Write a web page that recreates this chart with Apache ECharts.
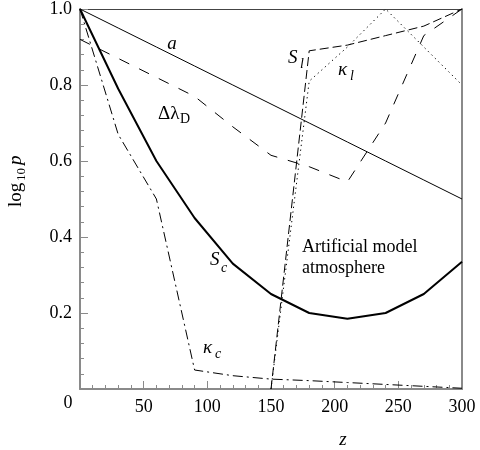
<!DOCTYPE html>
<html>
<head>
<meta charset="utf-8">
<script src="https://cdn.jsdelivr.net/npm/echarts@6/dist/echarts.min.js"></script>
<style>html,body{margin:0;padding:0;background:#fff;}#c{width:480px;height:450px;}</style>
</head>
<body>
<div id="c"></div>
<script>
// depth grid (z)
const zGrid = [0, 30, 60, 90, 120, 150, 180, 210, 240, 270, 300];
// curves (log10 p)
const aVals   = [1.0, 0.95, 0.90, 0.85, 0.80, 0.75, 0.70, 0.65, 0.60, 0.55, 0.50];
const ScVals  = [1.0, 0.79, 0.60, 0.45, 0.33, 0.25, 0.20, 0.185, 0.20, 0.25, 0.335];
const dlDVals = [0.92, 0.87, 0.82, 0.77, 0.69, 0.615, 0.585, 0.545, 0.70, 0.93, 1.0];
const kcVals  = [1.0, 0.67, 0.50, 0.05, 0.035, 0.026, 0.022, 0.017, 0.012, 0.007, 0.002];
const SlVals  = [null, null, null, null, null, 0.0, 0.89, 0.905, 0.93, 0.955, 1.0];
const klVals  = [null, null, null, null, null, 0.0, 0.81, 0.90, 1.0, 0.90, 0.80];
// tick labels
const xTicks = [50, 100, 150, 200, 250, 300];
const yTicks = ['0.2', '0.4', '0.6', '0.8', '1.0'];

const FONT = '"Liberation Serif", "DejaVu Serif", serif';
const pairs = vals => zGrid.map((z, i) => [z, vals[i]]).filter(p => p[1] !== null);

const chart = echarts.init(document.getElementById('c'));
const axisGray = '#8a8a8a';

function lineSeries(name, vals, width, type) {
  return {
    name, type: 'line', data: pairs(vals), symbol: 'none', smooth: false,
    xAxisIndex: 0, yAxisIndex: 0, animation: false,
    lineStyle: { color: '#000', width: width, type: type }
  };
}

function txt(text, x, y, size, opts) {
  opts = opts || {};
  return {
    type: 'text', x: x, y: y, silent: true,
    style: {
      text: text, fill: '#000',
      font: (opts.italic ? 'italic ' : '') + size + 'px ' + FONT,
      align: opts.align || 'left', verticalAlign: opts.va || 'middle',
      textAlign: opts.align || 'left', textVerticalAlign: opts.va || 'middle'
    }
  };
}

chart.setOption({
  animation: false,
  backgroundColor: '#fff',
  grid: { left: 80, right: 18, top: 7, bottom: 61 },
  xAxis: [{
    type: 'value', min: 0, max: 300, interval: 50, position: 'bottom',
    axisLine: { show: true, onZero: false, lineStyle: { color: axisGray, width: 2 } },
    axisTick: { show: true, inside: true, length: 8, lineStyle: { color: axisGray, width: 1 } },
    minorTick: { show: true, splitNumber: 5, length: 4, lineStyle: { color: axisGray, width: 1 } },
    splitLine: { show: false },
    axisLabel: { color: '#000', fontFamily: FONT, fontSize: 18, margin: 9,
      formatter: v => (xTicks.indexOf(v) >= 0 ? String(v) : '') }
  }, {
    type: 'value', min: 0, max: 300, position: 'top',
    axisLine: { show: true, onZero: false, lineStyle: { color: '#444', width: 1 } },
    axisTick: { show: false }, axisLabel: { show: false }, splitLine: { show: false }
  }],
  yAxis: [{
    type: 'value', min: 0, max: 1, interval: 0.2, position: 'left',
    axisLine: { show: true, onZero: false, lineStyle: { color: axisGray, width: 2 } },
    axisTick: { show: true, inside: true, length: 8, lineStyle: { color: axisGray, width: 1 } },
    minorTick: { show: true, splitNumber: 5, length: 4, lineStyle: { color: axisGray, width: 1 } },
    splitLine: { show: false },
    axisLabel: { color: '#000', fontFamily: FONT, fontSize: 18, margin: 8,
      formatter: v => { const s = v.toFixed(1); return yTicks.indexOf(s) >= 0 ? s : ''; } }
  }, {
    type: 'value', min: 0, max: 1, position: 'right',
    axisLine: { show: true, onZero: false, lineStyle: { color: axisGray, width: 2 } },
    axisTick: { show: false }, axisLabel: { show: false }, splitLine: { show: false }
  }],
  series: [
    lineSeries('a', aVals, 1, 'solid'),
    lineSeries('Sc', ScVals, 2, 'solid'),
    lineSeries('dlD', dlDVals, 1, [11, 11]),
    lineSeries('kc', kcVals, 1, [10, 4, 2, 4]),
    lineSeries('Sl', SlVals, 1, [9, 4]),
    lineSeries('kl', klVals, 1, [1.3, 3.5])
  ],
  graphic: [
    txt('0', 68, 403, 18, { align: 'center' }),
    txt('z', 343, 440, 19, { italic: true, align: 'center' }),
    {
      type: 'group', x: 16, y: 207, rotation: Math.PI / 2,
      children: [
        txt('log', 0, 0, 19),
        txt('10', 26, 6, 13),
        txt('p', 42, 0, 19, { italic: true })
      ]
    },
    txt('a', 172, 44, 19, { italic: true, align: 'center' }),
    txt('Δλ', 158, 114, 19),
    txt('D', 180, 119, 14),
    txt('S', 288, 58, 19, { italic: true }),
    txt('l', 300, 64, 14, { italic: true }),
    txt('κ', 338, 70, 19, { italic: true }),
    txt('l', 350, 76, 14, { italic: true }),
    txt('S', 210, 260, 19, { italic: true }),
    txt('c', 221, 268, 14, { italic: true }),
    txt('κ', 203, 348, 19, { italic: true }),
    txt('c', 215, 354, 14, { italic: true }),
    txt('Artificial model', 302, 247, 18),
    txt('atmosphere', 302, 268, 18)
  ]
});
</script>
</body>
</html>
